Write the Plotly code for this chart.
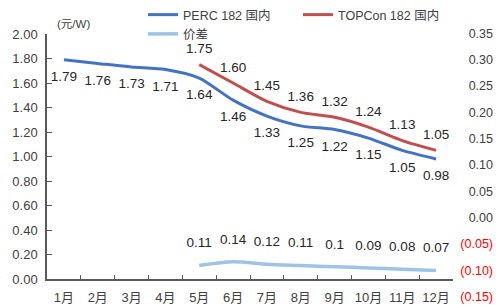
import plotly.graph_objects as go

months = ["1月", "2月", "3月", "4月", "5月", "6月", "7月", "8月", "9月", "10月", "11月", "12月"]
perc = [1.79, 1.76, 1.73, 1.71, 1.64, 1.46, 1.33, 1.25, 1.22, 1.15, 1.05, 0.98]
topcon = [None, None, None, None, 1.75, 1.60, 1.45, 1.36, 1.32, 1.24, 1.13, 1.05]
gap = [None, None, None, None, 0.11, 0.14, 0.12, 0.11, 0.1, 0.09, 0.08, 0.07]
left_ticks = [0.0, 0.2, 0.4, 0.6, 0.8, 1.0, 1.2, 1.4, 1.6, 1.8, 2.0]
right_ticks = [-0.15, -0.10, -0.05, 0.0, 0.05, 0.10, 0.15, 0.20, 0.25, 0.30, 0.35]

FONT = "Liberation Sans, Arial, Noto Sans CJK SC, sans-serif"
W, H = 496, 305
ML, MR, MT, MB = 47, 0, 20, 0
plot_w = W - ML - MR
plot_h = H - MT - MB
x_end = 453          # right end of category axis (px)
y_axis_px = 279      # x-axis line (px)
y_top_px = 34        # top of left axis (px)
r_top_px, r_bot_px = 33.5, 296.5   # pixel rows of right axis 0.35 / -0.15

# right axis range so that its ticks fall on the same rows as the reference
r_scale = (r_bot_px - r_top_px) / (right_ticks[-1] - right_ticks[0])
r_hi = right_ticks[-1] + (r_top_px - MT) / r_scale
r_lo = right_ticks[0] - (H - MB - r_bot_px) / r_scale

def right_label(v):
    if v < 0:
        return '<span style="color:#FF0000">(%.2f)</span>' % abs(v)
    return "%.2f" % v

fig = go.Figure()
fig.add_trace(go.Scatter(
    x=months, y=perc, name="PERC 182 国内", mode="lines+markers+text",
    line=dict(color="#4472C4", width=3, shape="spline", smoothing=0.7),
    marker=dict(size=16, color="rgba(0,0,0,0)"),
    text=["%.2f" % v for v in perc], textposition="bottom center",
    textfont=dict(size=13.5, color="#262626", family=FONT),
))
fig.add_trace(go.Scatter(
    x=months, y=topcon, name="TOPCon 182 国内", mode="lines+markers+text",
    line=dict(color="#C0504D", width=3, shape="spline", smoothing=0.7),
    marker=dict(size=11, color="rgba(0,0,0,0)"),
    text=["" if v is None else "%.2f" % v for v in topcon], textposition="top center",
    textfont=dict(size=13.5, color="#262626", family=FONT),
))
fig.add_trace(go.Scatter(
    x=months, y=gap, name="价差", mode="lines+markers+text",
    line=dict(color="#9DC3E6", width=3.5, shape="spline", smoothing=0.7),
    marker=dict(size=22, color="rgba(0,0,0,0)"),
    text=["" if v is None else str(v) for v in gap], textposition="top center",
    textfont=dict(size=13.5, color="#262626", family=FONT),
))
# helper trace that carries the right-hand axis (full-height subplot)
fig.add_trace(go.Scatter(x=[0], y=[0], xaxis="x2", yaxis="y2", showlegend=False,
                         hoverinfo="skip", mode="markers",
                         marker=dict(color="rgba(0,0,0,0)", size=1)))

fig.update_layout(
    template="none",
    width=W, height=H,
    margin=dict(l=ML, r=MR, t=MT, b=MB, pad=0, autoexpand=False),
    paper_bgcolor="white", plot_bgcolor="rgba(0,0,0,0)",
    font=dict(family=FONT, size=12, color="#404040"),
    showlegend=True,
    legend=dict(orientation="h", xref="container", yref="container",
                x=143 / W, xanchor="left", y=1, yanchor="top",
                entrywidth=110, entrywidthmode="pixels",
                font=dict(size=12.5, color="#404040", family=FONT),
                bgcolor="rgba(0,0,0,0)", itemwidth=30, borderwidth=0),
    xaxis=dict(domain=[0, (x_end - ML) / plot_w], range=[-0.5, 11.5],
               type="category", showline=True, linecolor="#595959", linewidth=1.5,
               ticks="inside", ticklen=4, tickcolor="#595959", tickson="boundaries",
               showgrid=False, zeroline=False, anchor="y", tickangle=0,
               ticklabelstandoff=6, automargin=False,
               tickfont=dict(size=13, color="#404040")),
    yaxis=dict(domain=[(H - MB - y_axis_px) / plot_h, (H - MB - y_top_px) / plot_h],
               range=[0, 2.0],
               tickvals=left_ticks, ticktext=["%.2f" % v for v in left_ticks],
               showline=True, linecolor="#595959", linewidth=1.5,
               ticks="inside", ticklen=5, tickcolor="#595959",
               showgrid=False, zeroline=False, anchor="x", automargin=False,
               ticklabelstandoff=5,
               tickfont=dict(size=13, color="#404040")),
    xaxis2=dict(domain=[0, 1], range=[0, 1], visible=False, anchor="y2"),
    yaxis2=dict(domain=[0, 1], range=[r_lo, r_hi], anchor="x2",
                side="right", tickvals=right_ticks,
                ticktext=[right_label(v) for v in right_ticks],
                ticklabelposition="inside", showline=False, ticks="",
                showgrid=False, zeroline=False, automargin=False,
                tickfont=dict(size=12.5, color="#404040")),
    annotations=[dict(text="(元/W)", x=(73 - ML) / plot_w, y=(H - MB - 24) / plot_h,
                      xref="paper", yref="paper", xanchor="center", yanchor="middle",
                      showarrow=False, font=dict(size=11.5, color="#404040"))],
)

fig.write_html("out.html", config={"displayModeBar": False},
               post_script="document.body.style.margin='0';document.body.style.overflow='hidden';")
